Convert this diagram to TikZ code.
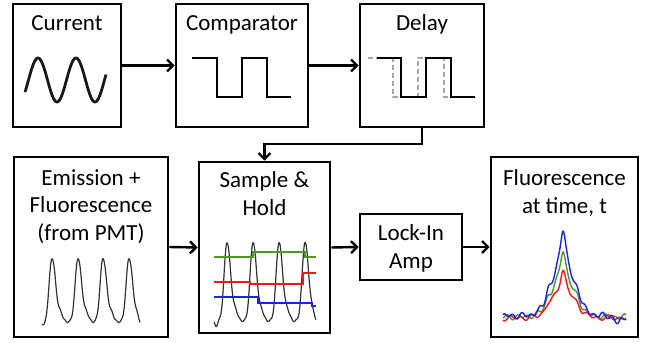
\documentclass[tikz,border=0pt]{standalone}
\usepackage{fontspec}
\setmainfont{Carlito}
\usetikzlibrary{arrows.meta}
\definecolor{hgreen}{RGB}{80,150,35}
\definecolor{hred}{RGB}{240,25,25}
\definecolor{hblue}{RGB}{25,35,235}
\tikzset{
  blockbox/.style={
    rectangle, draw=black, line width=2.6pt, fill=white, inner sep=0pt
  },
  title/.style={
    font=\fontsize{23}{27.5}\selectfont, align=center, inner sep=0pt, anchor=base
  },
  flow/.style={
    line width=2.4pt, -{Straight Barb[length=6pt,width=12pt]}
  },
  wave/.style={
    line width=2.2pt, line join=miter
  },
  trace/.style={
    line width=1.2pt, black!80, line join=round
  }
}

\begin{document}
\begin{tikzpicture}[x=1pt, y=-1pt,
  declare function={
    pk(\d)=exp(-(\d/((\d<0)?4.0:5.2))^2);
    kn(\d)=exp(-((\d-9)/3)^2);
    hump(\d)=46*exp(-(\d/16)^2)+42/(1+(\d/3.5)^2)
      +7*exp(-((\d+15)/3)^2)+7*exp(-((\d-15)/3)^2);}]
\useasboundingbox (0,0) rectangle (649,343);
% ------------------------------------------------
% 第一行：Current - Comparator - Delay
% ------------------------------------------------
\node[blockbox, minimum width=108, minimum height=123] (cur) at (67,65.5) {};
\node[blockbox, minimum width=132, minimum height=123] (cmp) at (242,65.5) {};
\node[blockbox, minimum width=124, minimum height=123] (del) at (422,65.5) {};
\node[title] (curT) at (67,30) {Current};
\node[title] (cmpT) at (242,30) {Comparator};
\node[title] (delT) at (422,30) {Delay};

% 正弦电流
\draw[line width=2.8pt, black!90]
  plot[domain=25:106, samples=120] (\x,{80-22*sin((\x-28.5)*9.4737)});
% 方波
\draw[wave] (192,58) -- (217,58) -- (217,97) -- (242,97) -- (242,58)
  -- (267,58) -- (267,97) -- (291,97);
% 延迟方波（灰色虚线为原波形）
\draw[line width=1.8pt, gray!70, dash pattern=on 5pt off 3pt]
  (368,58) -- (393,58) -- (393,97) -- (418,97) -- (418,58) -- (444,58)
  -- (444,97) -- (475,97);
\draw[wave] (377,58) -- (401,58) -- (401,97) -- (426,97) -- (426,58)
  -- (451,58) -- (451,97) -- (475,97);

\draw[flow] (cur.east) -- (cmp.west);
\draw[flow] (cmp.east) -- (del.west);

% ------------------------------------------------
% 第二行：Emission - Sample & Hold - Lock-In - Fluorescence
% ------------------------------------------------
\node[blockbox, minimum width=154, minimum height=180] (emi) at (91,247) {};
\node[blockbox, minimum width=131, minimum height=171] (sh)  at (264.5,247.5) {};
\node[blockbox, minimum width=102, minimum height=66]  (lia) at (411,247) {};
\node[blockbox, minimum width=147, minimum height=180] (flu) at (564.5,247) {};
\node[title] (emiT) at (91,240) {Emission +\\Fluorescence\\(from PMT)};
\node[title] (shT)  at (264.5,215) {Sample \&\\Hold};
\node[title] (liaT) at (411,268) {Lock-In\\Amp};
\node[title] (fluT) at (564.5,213) {Fluorescence\\at time, t};

% PMT 信号
\draw[trace] plot[domain=42:140, samples=400]
  (\x,{322-64*(pk(\x-52)+pk(\x-78)+pk(\x-103)+pk(\x-129))
     -7*(kn(\x-52)+kn(\x-78)+kn(\x-103)+kn(\x-129))
     +0.8*sin((\x-200)*70)+4*exp(-((\x-44)/2)^2)+5*exp(-((\x-140)/3)^2)});
% 采样保持
\draw[trace] plot[domain=214:316, samples=400]
  (\x,{321-79*(pk(\x-227)+pk(\x-253)+pk(\x-279)+pk(\x-305))
     -8*(kn(\x-227)+kn(\x-253)+kn(\x-279)+kn(\x-305))
     +0.8*sin((\x-200)*70)+5*exp(-((\x-216)/2)^2)+5*exp(-((\x-316)/3)^2)});
\draw[hgreen, line width=1.4pt] (214,257) -- (253,257) -- (253,252) -- (305,252)
  -- (305,257) -- (316,257);
\draw[hred, line width=1.4pt] (214,282) -- (250,282) -- (250,284) -- (303,284)
  -- (303,273) -- (316,273);
\draw[hblue, line width=1.4pt] (214,297) -- (258,297) -- (258,303) -- (312,303)
  -- (312,306) -- (316,306);

% 荧光输出
\draw[hgreen, line width=1.4pt] plot[domain=503:626, samples=300]
  (\x,{317-0.76*hump(\x-563)+1.8*sin((\x-560)*37+40)+1.2*sin((\x-560)*21)});
\draw[hred, line width=1.4pt] plot[domain=503:626, samples=300]
  (\x,{318-0.54*hump(\x-563)+1.8*sin((\x-560)*33+120)+1.2*sin((\x-560)*19+60)});
\draw[hblue, line width=1.4pt] plot[domain=503:626, samples=300]
  (\x,{316-hump(\x-563)+2*sin((\x-560)*40)+1.4*sin((\x-560)*23+30)
     +8*exp(-((\x-618)/4)^2)});

\draw[flow] (emi.east) -- (sh.west);
\draw[flow] (sh.east) -- (lia.west);
\draw[flow] (lia.east) -- (flu.west);

% Delay 回到 Sample & Hold
\coordinate (bend) at (422,144);
\draw[flow] (del.south) -- (bend) -| (sh.north);
\end{tikzpicture}
\end{document}
